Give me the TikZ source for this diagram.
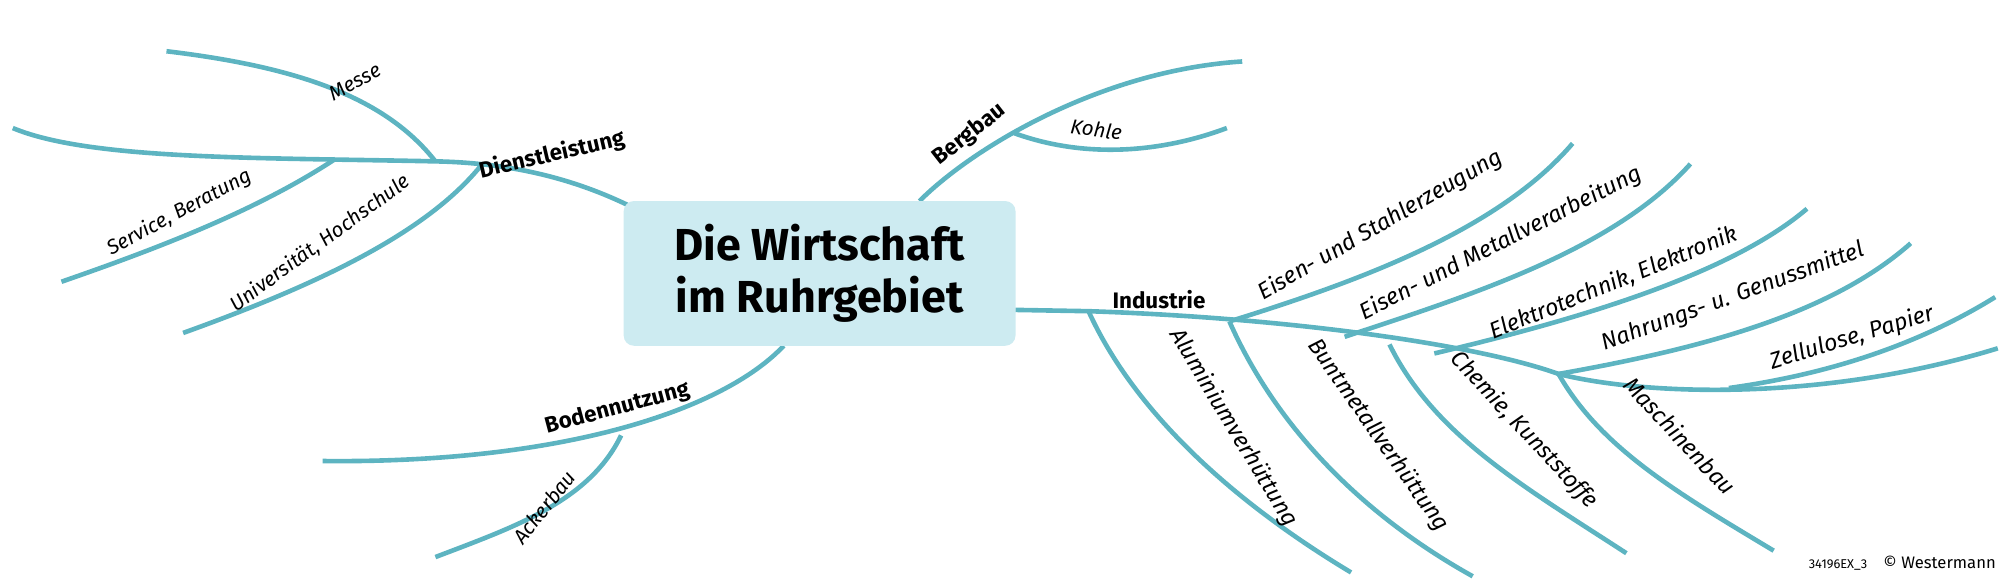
\documentclass[tikz,border=0pt]{standalone}
\usepackage{fontspec}
\setmainfont{Fira Sans}
\begin{document}
\begin{tikzpicture}[x=1pt,y=-1pt,
  br/.style={draw=teal0,line width=3.6pt},
  main/.style={font=\bfseries\fontsize{17.5}{19}\selectfont,inner sep=1pt},
  sub/.style={font=\itshape\fontsize{18}{20}\selectfont,inner sep=1pt},
  small/.style={font=\itshape\fontsize{16}{18}\selectfont,inner sep=1pt}]
\definecolor{teal0}{HTML}{5DB4C1}
\definecolor{boxc}{HTML}{CDEBF1}
\useasboundingbox (0,0) rectangle (1568,457);
% Dienstleistung
\coordinate (d0) at (490,160); \coordinate (d1) at (375,130); \coordinate (d2) at (340,126);
\coordinate (d3) at (262,124); \coordinate (dE) at (10,100);
\draw[br] (d0) .. controls (440,136) and (390,127) .. (d2) .. controls (200,123) and (70,125) .. (dE);
\coordinate (mE) at (130,40);
\draw[br] (d2) .. controls (300,75) and (230,52) .. (mE);
\coordinate (sE) at (48,220);
\draw[br] (d3) .. controls (200,165) and (120,195) .. (sE);
\coordinate (uE) at (143,260);
\draw[br] (d1) .. controls (330,185) and (240,225) .. (uE);
\node[main,rotate=13] (ld) at (431,121) {Dienstleistung};
\node[small,rotate=28] (lm) at (277,64) {Messe};
\node[small,rotate=28] (ls) at (140,166) {Service, Beratung};
\node[small,rotate=36] (lu) at (250,190) {Universität, Hochschule};
% Bergbau
\coordinate (b0) at (718,157); \coordinate (b1) at (792,104); \coordinate (bE) at (970,48);
\draw[br] (b0) .. controls (760,115) and (860,55) .. (bE);
\coordinate (kE) at (958,100);
\draw[br] (b1) .. controls (850,125) and (910,118) .. (kE);
\node[main,rotate=38] (lb) at (757,105) {Bergbau};
\node[small,rotate=-8] (lk) at (856,101) {Kohle};
% Bodennutzung
\coordinate (n0) at (612,270); \coordinate (n1) at (485,340); \coordinate (nE) at (252,360);
\draw[br] (n0) .. controls (565,320) and (440,362) .. (nE);
\coordinate (aE) at (340,435);
\draw[br] (n1) .. controls (460,392) and (400,412) .. (aE);
\node[main,rotate=15] (ln) at (482,319) {Bodennutzung};
\node[small,rotate=52] (la) at (425,396) {Ackerbau};
% center
\node[fill=boxc,rounded corners=8pt,minimum width=306pt,minimum height=113pt,align=center,font=\bfseries\fontsize{35}{41}\selectfont] (c) at (640,213.5) {Die Wirtschaft\\im Ruhrgebiet};
% Industrie
\coordinate (i0) at (793,242); \coordinate (i1) at (850,243); \coordinate (i2) at (960,251);
\coordinate (i3) at (1050,263); \coordinate (i4) at (1085,269); \coordinate (i5) at (1120,276);
\coordinate (i6) at (1217,292); \coordinate (i7) at (1350,303); \coordinate (iE) at (1560,272);
\draw[br] (i0) -- (i1) .. controls (1000,248) and (1150,268) .. (i6) .. controls (1280,308) and (1420,315) .. (iE);
\node[main] (li) at (905,234) {Industrie};
\coordinate (e1) at (1228,112); \coordinate (e2) at (1320,128); \coordinate (e3) at (1411,163);
\coordinate (e4) at (1492,190); \coordinate (e5) at (1558,232);
\draw[br] (i2) .. controls (1060,220) and (1170,180) .. (e1);
\draw[br] (i3) .. controls (1150,230) and (1260,195) .. (e2);
\draw[br] (i5) .. controls (1230,250) and (1350,215) .. (e3);
\draw[br] (i6) .. controls (1330,272) and (1430,245) .. (e4);
\draw[br] (i7) .. controls (1430,292) and (1500,268) .. (e5);
\node[sub,rotate=30] (l1) at (1078,176) {Eisen- und Stahlerzeugung};
\node[sub,rotate=27] (l2) at (1172,190) {Eisen- und Metallverarbeitung};
\node[sub,rotate=22] (l3) at (1260,221) {Elektrotechnik, Elektronik};
\node[sub,rotate=20] (l4) at (1353,232) {Nahrungs- u. Genussmittel};
\node[sub,rotate=17] (l5) at (1446,264) {Zellulose, Papier};
\coordinate (f1) at (1055,447); \coordinate (f2) at (1150,450); \coordinate (f3) at (1270,432); \coordinate (f4) at (1385,430);
\draw[br] (i1) .. controls (885,320) and (960,390) .. (f1);
\draw[br] (i2) .. controls (995,330) and (1060,400) .. (f2);
\draw[br] (i4) .. controls (1120,340) and (1190,380) .. (f3);
\draw[br] (i6) .. controls (1250,350) and (1310,385) .. (f4);
\node[sub,rotate=-59] (g1) at (963,334) {Aluminiumverhüttung};
\node[sub,rotate=-55] (g2) at (1076,340) {Buntmetallverhüttung};
\node[sub,rotate=-47] (g3) at (1190,336) {Chemie, Kunststoffe};
\node[sub,rotate=-47] (g4) at (1312,340) {Maschinenbau};
\node[font=\fontsize{10}{12}\selectfont,anchor=east] (cr) at (1562,440) {34196EX\_3 \quad{\fontsize{13}{14}\selectfont © Westermann}};
\end{tikzpicture}
\end{document}
